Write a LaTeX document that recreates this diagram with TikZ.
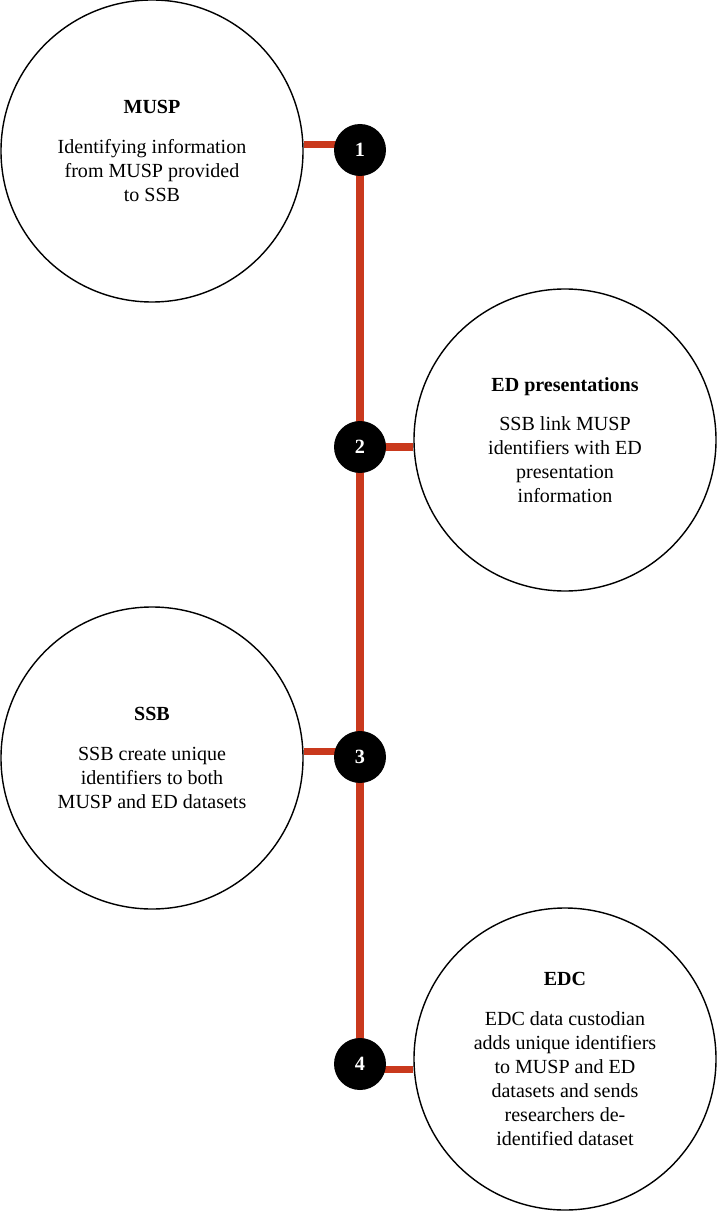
\documentclass[tikz,border=0pt]{standalone}
\usepackage{fontspec}
\setmainfont{Liberation Serif}
\usetikzlibrary{backgrounds}

\definecolor{linkred}{HTML}{C9391D}
\tikzset{
  stepcircle/.style={draw, circle, line width=0.8pt, minimum size=302*0.02cm,
    inner sep=0pt, align=center, font=\fontsize{11.4}{13.6}\selectfont},
  badge/.style={circle, fill=black, text=white, minimum size=1.04cm, inner sep=0pt,
    font=\fontsize{11.5}{13}\selectfont\bfseries},
  link/.style={linkred, line width=4pt}
}

\begin{document}
\begin{tikzpicture}[x=0.02cm, y=-0.02cm]
    \useasboundingbox (0,0) rectangle (717,1212);
    % steps
    \node[stepcircle] (musp) at (152,151) {\textbf{MUSP}\\[9pt]Identifying information\\from MUSP provided\\to SSB};
    \node[stepcircle] (ed) at (565,440) {\textbf{ED presentations}\\[9pt]SSB link MUSP\\identifiers with ED\\presentation\\information};
    \node[stepcircle] (ssb) at (152,758) {\textbf{SSB}\\[9pt]SSB create unique\\identifiers to both\\MUSP and ED datasets};
    \node[stepcircle] (edc) at (565,1059) {\textbf{EDC}\\[9pt]EDC data custodian\\adds unique identifiers\\to MUSP and ED\\datasets and sends\\researchers de-\\identified dataset};
    % numbers
    \node[badge] (b1) at (360,150) {1};
    \node[badge] (b2) at (360,447) {2};
    \node[badge] (b3) at (360,757) {3};
    \node[badge] (b4) at (360,1064) {4};
    \begin{scope}[on background layer]
      \draw[link] (b1.center) -- (b4.center);
      \draw[link] ([yshift=3pt]b1.center) -- ([yshift=3pt]b1 -| musp.east);
      \draw[link] (b2.center) -- (b2 -| ed.west);
      \draw[link] ([yshift=3pt]b3.center) -- ([yshift=3pt]b3 -| ssb.east);
      \draw[link] ([yshift=-3.4pt]b4.center) -- ([yshift=-3.4pt]b4 -| edc.west);
    \end{scope}
  \end{tikzpicture}
\end{document}
